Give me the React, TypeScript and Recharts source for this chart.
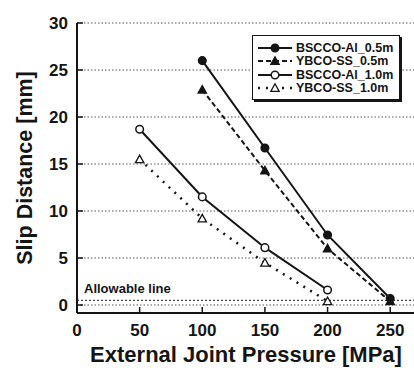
import React from "react";
import { LineChart, Line, XAxis, YAxis, CartesianGrid, ReferenceLine, Legend } from "recharts";

// pressures in MPa, slip distances in mm
const pressure05 = [100, 150, 200, 250];
const bsccoAl05 = [26.0, 16.7, 7.45, 0.7];
const ybcoSs05 = [22.9, 14.3, 6.0, 0.4];

const pressure10 = [50, 100, 150, 200];
const bsccoAl10 = [18.7, 11.5, 6.1, 1.6];
const ybcoSs10 = [15.5, 9.2, 4.5, 0.4];

const xTicks = [0, 50, 100, 150, 200, 250];
const yTicks = [0, 5, 10, 15, 20, 25, 30];
const allowable = 0.5;

const seriesNames = ["BSCCO-Al_0.5m", "YBCO-SS_0.5m", "BSCCO-Al_1.0m", "YBCO-SS_1.0m"];

const toPoints = (xs: number[], ys: number[]) => xs.map((p, i) => ({ p, v: ys[i] }));

const INK = "#151515";
const FONT = "'Liberation Sans', Arial, sans-serif";

type Style = { dash?: string; width: number; marker: "circle" | "triangle"; filled: boolean };
const styles: Style[] = [
  { width: 2, marker: "circle", filled: true },
  { dash: "5 3", width: 2, marker: "triangle", filled: true },
  { width: 2, marker: "circle", filled: false },
  { dash: "2 6", width: 2.5, marker: "triangle", filled: false },
];

const Marker = ({ cx, cy, kind, filled }: { cx: number; cy: number; kind: string; filled: boolean }) => {
  if (cx == null || cy == null) return null;
  const fill = filled ? INK : "#fff";
  if (kind === "circle") {
    return <circle cx={cx} cy={cy} r={3.8} fill={fill} stroke={INK} strokeWidth={1.5} />;
  }
  const s = 4.2;
  return (
    <polygon
      points={`${cx},${cy - s} ${cx - s},${cy + s * 0.8} ${cx + s},${cy + s * 0.8}`}
      fill={fill}
      stroke={INK}
      strokeWidth={1.3}
    />
  );
};

const XTick = (props: any) => {
  const { x, y, payload } = props;
  return (
    <g>
      <line x1={x} y1={y} x2={x} y2={y - 6} stroke={INK} strokeWidth={1.5} />
      <text x={x} y={y + 23} textAnchor="middle" fontSize={17} fontWeight="bold" fill={INK} fontFamily={FONT}>
        {payload.value}
      </text>
    </g>
  );
};

const TopTick = (props: any) => {
  const { x, y } = props;
  return <line x1={x} y1={y} x2={x} y2={y + 6} stroke={INK} strokeWidth={1.5} />;
};

const YTick = (props: any) => {
  const { x, y, payload } = props;
  return (
    <g>
      <line x1={x} y1={y} x2={x + 6} y2={y} stroke={INK} strokeWidth={1.5} />
      <text x={x - 9} y={y + 6} textAnchor="end" fontSize={17} fontWeight="bold" fill={INK} fontFamily={FONT}>
        {payload.value}
      </text>
    </g>
  );
};

const LegendBox = () => (
  <div
    style={{
      border: `1.5px solid ${INK}`,
      boxShadow: `2px 2px 0 ${INK}`,
      background: "#fff",
      padding: "5px 6px 4px 5px",
      fontFamily: FONT,
      fontWeight: "bold",
      fontSize: 12.5,
      color: INK,
    }}
  >
    {seriesNames.map((name, i) => {
      const st = styles[i];
      return (
        <div key={name} style={{ display: "flex", alignItems: "center", height: 13.5, whiteSpace: "nowrap" }}>
          <svg width={34} height={12} style={{ marginRight: 4 }}>
            <line x1={0} y1={6} x2={34} y2={6} stroke={INK} strokeWidth={st.width} strokeDasharray={st.dash} />
            <Marker cx={17} cy={6} kind={st.marker} filled={st.filled} />
          </svg>
          {name}
        </div>
      );
    })}
  </div>
);

const seriesData = [
  toPoints(pressure05, bsccoAl05),
  toPoints(pressure05, ybcoSs05),
  toPoints(pressure10, bsccoAl10),
  toPoints(pressure10, ybcoSs10),
];

export default function App() {
  return (
    <div style={{ position: "absolute", left: 0, top: 0, fontFamily: FONT }}>
      <LineChart width={414} height={368} margin={{ top: 23, right: 0, bottom: 0, left: 0 }}>
        <CartesianGrid vertical={false} stroke="#555" strokeDasharray="1.5 2" />
        <XAxis
          type="number"
          dataKey="p"
          domain={[0, 269]}
          ticks={xTicks}
          height={55}
          tickSize={0}
          tickMargin={0}
          tickLine={false}
          tick={XTick}
          axisLine={{ stroke: INK, strokeWidth: 2 }}
          allowDataOverflow
        />
        <XAxis
          xAxisId="top"
          orientation="top"
          type="number"
          dataKey="p"
          domain={[0, 269]}
          ticks={xTicks}
          height={0}
          tickSize={0}
          tickMargin={0}
          tickLine={false}
          tick={TopTick}
          axisLine={{ stroke: INK, strokeWidth: 2 }}
          allowDataOverflow
        />
        <YAxis
          type="number"
          domain={[-0.85, 30]}
          ticks={yTicks}
          width={77}
          tickSize={0}
          tickMargin={0}
          tickLine={false}
          tick={YTick}
          axisLine={{ stroke: INK, strokeWidth: 2 }}
          allowDataOverflow
        />
        <ReferenceLine
          y={allowable}
          stroke={INK}
          strokeDasharray="2 2"
          label={{
            value: "Allowable line",
            position: "insideBottomLeft",
            offset: 7,
            style: { fontSize: 13, fontWeight: "bold", fill: INK, fontFamily: FONT },
          }}
        />
        {seriesData.map((d, i) => {
          const st = styles[i];
          return (
            <Line
              key={seriesNames[i]}
              data={d}
              dataKey="v"
              name={seriesNames[i]}
              stroke={INK}
              strokeWidth={st.width}
              strokeDasharray={st.dash}
              isAnimationActive={false}
              dot={(p: any) => <Marker key={`${i}-${p.index}`} cx={p.cx} cy={p.cy} kind={st.marker} filled={st.filled} />}
            />
          );
        })}
        <Legend
          layout="vertical"
          align="center"
          verticalAlign="middle"
          content={LegendBox}
          wrapperStyle={{ position: "absolute", left: 252, top: 35, width: "auto", height: "auto" }}
        />
        <text
          x={0}
          y={0}
          transform="translate(32,168) rotate(-90)"
          textAnchor="middle"
          fontSize={21.5}
          fontWeight="bold"
          fill={INK}
          fontFamily={FONT}
        >
          Slip Distance [mm]
        </text>
        <text x={246} y={362} textAnchor="middle" fontSize={22} fontWeight="bold" fill={INK} fontFamily={FONT}>
          External Joint Pressure [MPa]
        </text>
      </LineChart>
    </div>
  );
}
